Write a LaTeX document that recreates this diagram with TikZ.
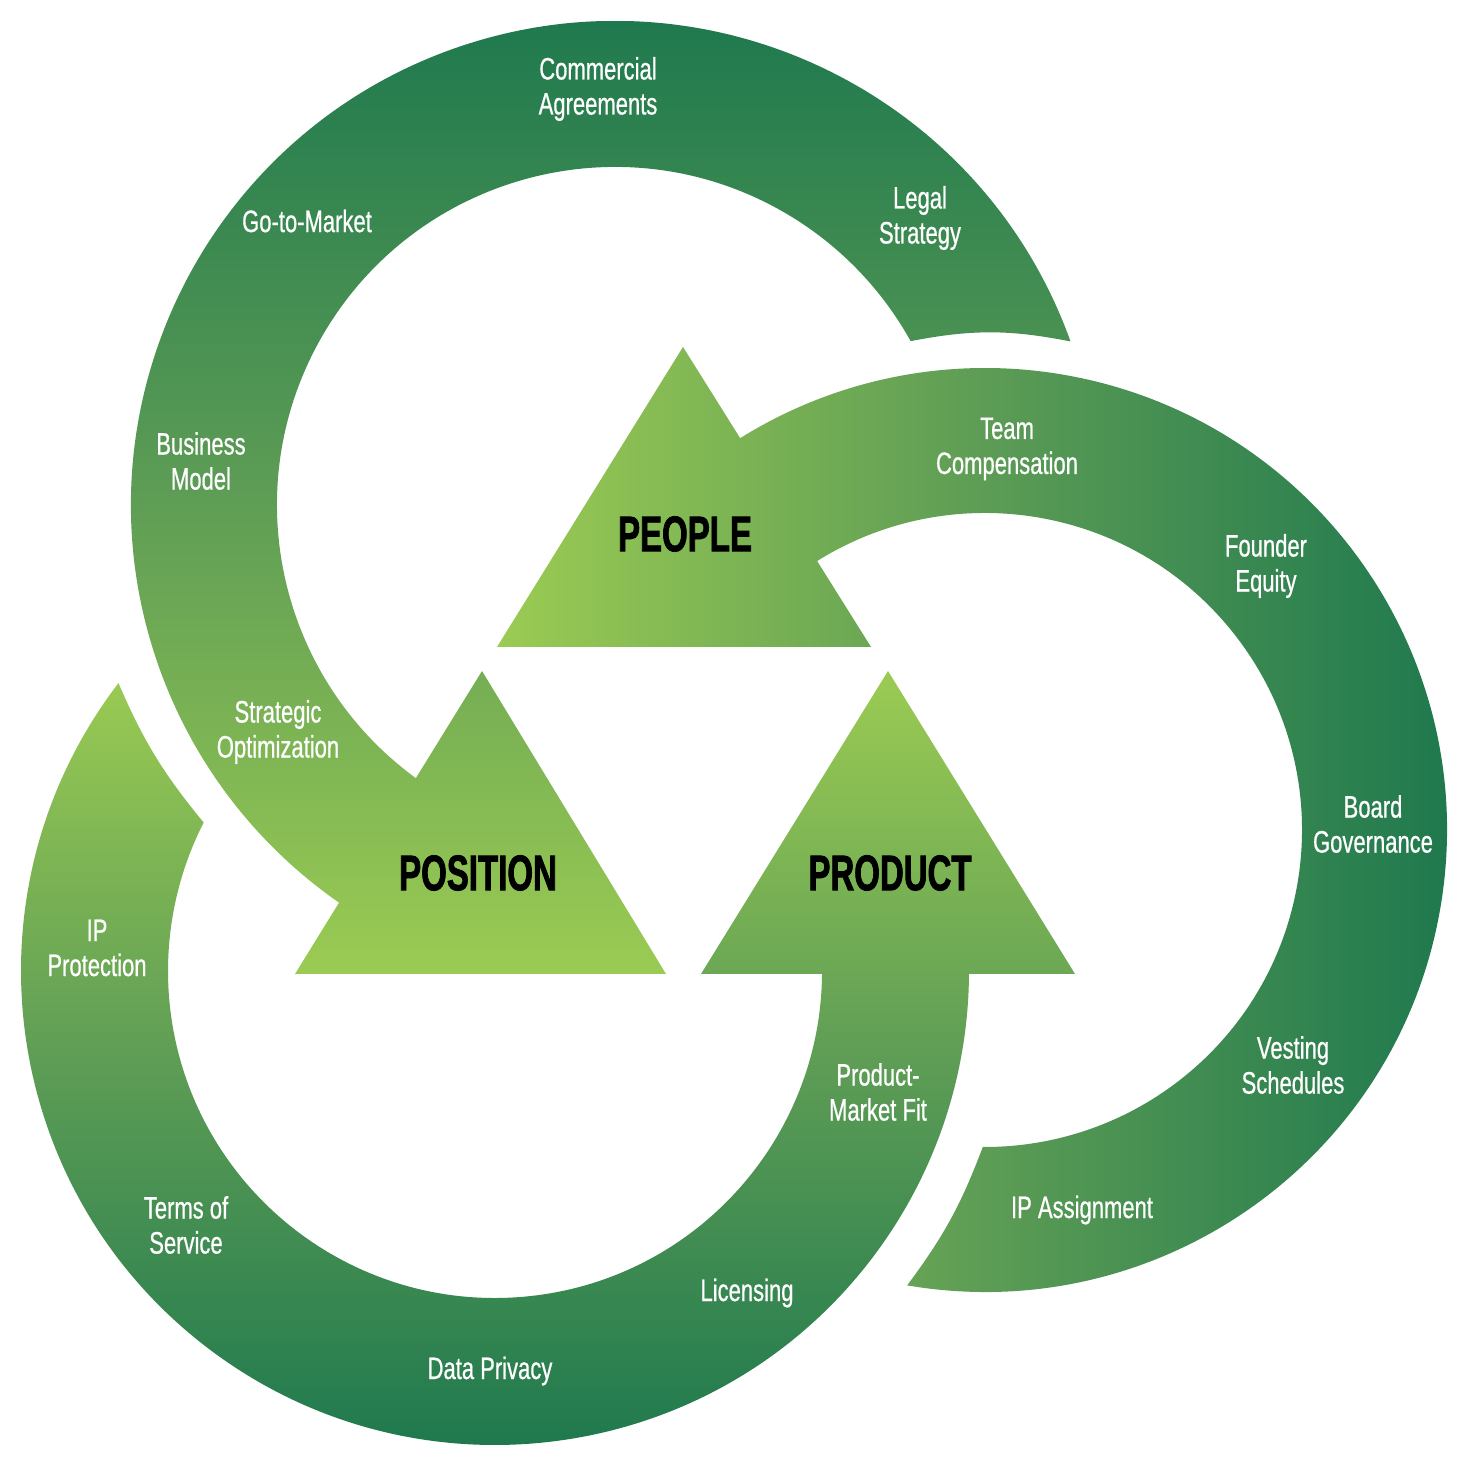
\documentclass[tikz,border=0pt]{standalone}
\usepackage{fontspec}
\newfontfamily\labelfont{Liberation Sans}[FakeStretch=0.71, UprightFeatures={FakeBold=0.6}]
\newfontfamily\titlefont{Liberation Sans}[FakeStretch=0.66, BoldFeatures={FakeBold=1.5}]
\usepackage{xcolor}
\definecolor{ringDark}{HTML}{1F794E}
\definecolor{ringMid}{HTML}{5E9D55}
\definecolor{ringLight}{HTML}{9BCB53}
\tikzset{
  ringlabel/.style={text=white, align=center, inner sep=0pt, font=\labelfont\fontsize{31}{35}\selectfont},
  trilabel/.style={text=black, inner sep=0pt, font=\titlefont\bfseries\fontsize{50}{54}\selectfont},
  topshade/.style={top color=ringDark, bottom color=ringLight, middle color=ringMid},
  rightshade/.style={left color=ringLight, right color=ringDark, middle color=ringMid},
  bottomshade/.style={top color=ringLight, bottom color=ringDark, middle color=ringMid},
}

\begin{document}
\begin{tikzpicture}[x=1pt, y=1pt]
  \path[use as bounding box, fill=white] (0,0) rectangle (1469,1471);
  % position arc
  \begin{scope}
    \clip[shift={(615,966)}] (19.75:484) arc[start angle=19.75, end angle=240, radius=484]
      -- (240:338) arc[start angle=240, end angle=29, radius=338]
      to[bend left=11] (19.75:484) -- cycle;
    \shade[topshade] (0,497) rectangle (1469,1449);
  \end{scope}
  % people arc
  \begin{scope}
    \clip[shift={(985,641)}] (260.3:462) arc[start angle=260.3, end angle=488, radius=462]
      -- (488:317) arc[start angle=488, end angle=269.6, radius=317]
      to[bend left=8] (260.3:462) -- cycle;
    \shade[rightshade] (497,0) rectangle (1447,1471);
  \end{scope}
  % product arc
  \begin{scope}
    \clip[shift={(495,500)}] (142.6:474) arc[start angle=142.6, end angle=365, radius=474]
      -- (365:327) arc[start angle=365, end angle=153, radius=327]
      to[bend left=8] (142.6:474) -- cycle;
    \shade[bottomshade] (0,24) rectangle (1469,800);
  \end{scope}
  % arrow heads
  \begin{scope}
    \clip (295,497) -- (666,497) -- (482,800) -- cycle;
    \shade[topshade] (0,497) rectangle (1469,1449);
  \end{scope}
  \begin{scope}
    \clip (497,824) -- (871,824) -- (683,1124) -- cycle;
    \shade[rightshade] (497,0) rectangle (1447,1471);
  \end{scope}
  \begin{scope}
    \clip (701,497) -- (1075,497) -- (888,800) -- cycle;
    \shade[bottomshade] (0,24) rectangle (1469,800);
  \end{scope}

  \node[trilabel] (people) at (685,937) {PEOPLE};
  \node[trilabel] (position) at (478,598) {POSITION};
  \node[trilabel] (product) at (890,598) {PRODUCT};

  \node[ringlabel] (commercial) at (598,1382) {Commercial\\Agreements};
  \node[ringlabel] (legal) at (920,1253) {Legal\\Strategy};
  \node[ringlabel] (gomarket) at (307,1250) {Go-to-Market};
  \node[ringlabel] (business) at (201,1010) {Business\\Model};
  \node[ringlabel] (strategic) at (278,739) {Strategic\\Optimization};

  \node[ringlabel] (team) at (1007,1022) {Team\\Compensation};
  \node[ringlabel] (founder) at (1266,905) {Founder\\Equity};
  \node[ringlabel] (board) at (1373,647) {Board\\Governance};
  \node[ringlabel] (vesting) at (1293,406) {Vesting\\Schedules};
  \node[ringlabel] (ipassign) at (1082,261) {IP Assignment};

  \node[ringlabel] (ipprotect) at (97,523) {IP\\Protection};
  \node[ringlabel] (terms) at (186,246) {Terms of\\Service};
  \node[ringlabel] (privacy) at (490,100) {Data Privacy};
  \node[ringlabel] (licensing) at (747,178) {Licensing};
  \node[ringlabel] (pmfit) at (878,379) {Product-\\Market Fit};
\end{tikzpicture}
\end{document}
